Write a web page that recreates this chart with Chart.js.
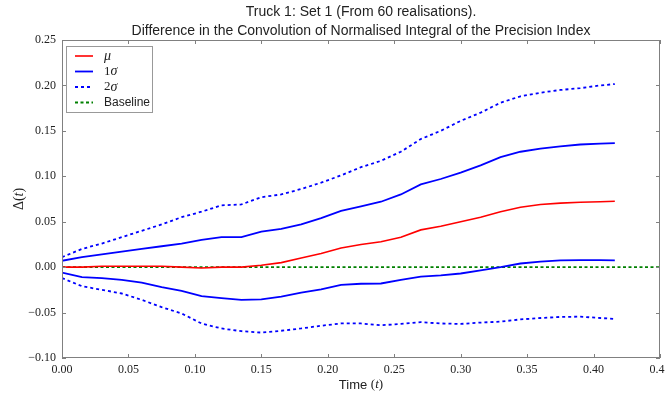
<!DOCTYPE html>
<html>
<head>
<meta charset="utf-8">
<script src="https://cdn.jsdelivr.net/npm/chart.js@4"></script>
<style>
  html, body { margin: 0; padding: 0; background: #fff; }
  #wrap { width: 665px; height: 397px; }
</style>
</head>
<body>
<div id="wrap"><canvas id="chart"></canvas></div>
<script>
// time samples (t) and the band values at each
const times = [0, 0.015, 0.03, 0.045, 0.06, 0.075, 0.09, 0.105, 0.12, 0.135,
  0.15, 0.165, 0.18, 0.195, 0.21, 0.225, 0.24, 0.255, 0.27, 0.285,
  0.30, 0.315, 0.33, 0.345, 0.36, 0.375, 0.39, 0.405, 0.416];

const meanDiff = [0.000, 0.000, 0.001, 0.001, 0.001, 0.001, 0.000, -0.001, 0.000, 0.000,
  0.002, 0.005, 0.010, 0.015, 0.021, 0.025, 0.028, 0.033, 0.041, 0.045,
  0.050, 0.055, 0.061, 0.066, 0.069, 0.0705, 0.0715, 0.072, 0.0725];

const upper1 = [0.007, 0.011, 0.014, 0.017, 0.020, 0.023, 0.026, 0.030, 0.033, 0.033,
  0.039, 0.042, 0.047, 0.054, 0.062, 0.067, 0.072, 0.080, 0.091, 0.097,
  0.104, 0.112, 0.121, 0.127, 0.1305, 0.133, 0.135, 0.136, 0.1365];

const lower1 = [-0.006, -0.011, -0.012, -0.014, -0.017, -0.022, -0.026, -0.032, -0.034, -0.036,
  -0.0355, -0.0325, -0.028, -0.0245, -0.0195, -0.0183, -0.018, -0.014, -0.0105, -0.009,
  -0.007, -0.0035, 0.000, 0.004, 0.006, 0.0075, 0.0078, 0.0077, 0.0075];

const upper2 = [0.011, 0.020, 0.026, 0.033, 0.040, 0.047, 0.055, 0.061, 0.068, 0.069,
  0.077, 0.080, 0.086, 0.093, 0.101, 0.110, 0.117, 0.127, 0.141, 0.150,
  0.161, 0.170, 0.181, 0.188, 0.192, 0.195, 0.197, 0.200, 0.2015];

const lower2 = [-0.012, -0.021, -0.025, -0.029, -0.036, -0.044, -0.051, -0.062, -0.0675, -0.0705,
  -0.072, -0.070, -0.0675, -0.0645, -0.062, -0.062, -0.064, -0.0625, -0.0605, -0.062,
  -0.0625, -0.061, -0.060, -0.0575, -0.056, -0.0548, -0.0545, -0.056, -0.057];

const baselineX = [0, 0.45];
const baselineY = [0, 0];

const xTicks = [0, 0.05, 0.10, 0.15, 0.20, 0.25, 0.30, 0.35, 0.40, 0.45];
const yTicks = [-0.10, -0.05, 0.00, 0.05, 0.10, 0.15, 0.20, 0.25];

const titleLines = [
  "Truck 1: Set 1 (From 60 realisations).",
  "Difference in the Convolution of Normalised Integral of the Precision Index",
];

const SERIF = "'Liberation Serif', 'DejaVu Serif', serif";
const SANS = "'Liberation Sans', Arial, sans-serif";

const pts = (xs, ys) => xs.map((x, i) => ({ x, y: ys[i] }));

const line = (label, data, color, dash, width) => ({
  label,
  data,
  borderColor: color,
  backgroundColor: color,
  borderWidth: width,
  borderDash: dash,
  pointRadius: 0,
  tension: 0,
  fill: false,
});

// legend entries: [dataset index, text parts]
const legendRows = [
  [0, [["\u03bc", "italic 14px " + SERIF]]],
  [1, [["1", "13px " + SERIF], ["\u03c3", "italic 14px " + SERIF]]],
  [3, [["2", "13px " + SERIF], ["\u03c3", "italic 14px " + SERIF]]],
  [5, [["Baseline", "12px " + SANS]]],
];

function drawParts(ctx, parts, x, y, align) {
  let total = 0;
  parts.forEach(([t, f]) => { ctx.font = f; total += ctx.measureText(t).width; });
  let cx = align === "center" ? x - total / 2 : x;
  ctx.textAlign = "left";
  ctx.textBaseline = "middle";
  parts.forEach(([t, f]) => {
    ctx.font = f;
    ctx.fillText(t, cx, y);
    cx += ctx.measureText(t).width;
  });
}

const decor = {
  id: "decor",
  afterDraw(chart) {
    const { ctx, chartArea: a, scales } = chart;
    ctx.save();

    // frame
    ctx.strokeStyle = "#808080";
    ctx.lineWidth = 1;
    ctx.setLineDash([]);
    ctx.strokeRect(a.left + 0.5, a.top + 0.5, a.right - a.left - 1, a.bottom - a.top - 1);

    // inward ticks on all four sides
    ctx.beginPath();
    xTicks.forEach((v) => {
      const px = Math.round(scales.x.getPixelForValue(v)) + 0.5;
      ctx.moveTo(px, a.bottom); ctx.lineTo(px, a.bottom - 4);
      ctx.moveTo(px, a.top); ctx.lineTo(px, a.top + 4);
    });
    yTicks.forEach((v) => {
      const py = Math.round(scales.y.getPixelForValue(v)) + 0.5;
      ctx.moveTo(a.left, py); ctx.lineTo(a.left + 4, py);
      ctx.moveTo(a.right, py); ctx.lineTo(a.right - 4, py);
    });
    ctx.stroke();

    const midX = (a.left + a.right) / 2;
    ctx.fillStyle = "#222";

    // title
    ctx.font = "14px " + SANS;
    ctx.textAlign = "center";
    ctx.textBaseline = "middle";
    ctx.fillText(titleLines[0], midX, 12);
    ctx.fillText(titleLines[1], midX, 31);

    // axis titles
    drawParts(ctx, [["Time ", "13px " + SANS], ["(", "13px " + SERIF], ["t", "italic 13px " + SERIF], [")", "13px " + SERIF]], midX, 385, "center");
    ctx.save();
    ctx.translate(19, (a.top + a.bottom) / 2);
    ctx.rotate(-Math.PI / 2);
    drawParts(ctx, [["\u0394(", "14px " + SERIF], ["t", "italic 14px " + SERIF], [")", "14px " + SERIF]], 0, 0, "center");
    ctx.restore();

    // legend
    const bx = 66, by = 46, bw = 86, bh = 66;
    ctx.fillStyle = "#fff";
    ctx.fillRect(bx, by, bw, bh);
    ctx.strokeStyle = "#999";
    ctx.strokeRect(bx + 0.5, by + 0.5, bw, bh);
    legendRows.forEach(([di, parts], i) => {
      const ds = chart.data.datasets[di];
      const y = by + 10 + i * 15.5;
      ctx.strokeStyle = ds.borderColor;
      ctx.lineWidth = ds.borderWidth;
      ctx.setLineDash(ds.borderDash || []);
      ctx.beginPath();
      ctx.moveTo(75, y); ctx.lineTo(93, y);
      ctx.stroke();
      ctx.setLineDash([]);
      ctx.fillStyle = "#222";
      drawParts(ctx, parts, 104, y, "left");
    });

    ctx.restore();
  },
};

const fmt = (v) => v.toFixed(2).replace("-", "\u2212");

new Chart(document.getElementById("chart"), {
  type: "line",
  data: {
    datasets: [
      line("mu", pts(times, meanDiff), "#ff0000", [], 1.6),
      line("1 sigma upper", pts(times, upper1), "#0000ff", [], 1.8),
      line("1 sigma lower", pts(times, lower1), "#0000ff", [], 1.8),
      line("2 sigma upper", pts(times, upper2), "#0000ff", [3, 3], 1.8),
      line("2 sigma lower", pts(times, lower2), "#0000ff", [3, 3], 1.8),
      line("Baseline", pts(baselineX, baselineY), "#008000", [3, 2.5], 1.8),
    ],
  },
  options: {
    responsive: true,
    maintainAspectRatio: false,
    animation: false,
    layout: { padding: { top: 40, right: 5, left: 0, bottom: 0 } },
    plugins: {
      legend: { display: false },
      title: { display: false },
      tooltip: { enabled: false },
    },
    scales: {
      x: {
        type: "linear",
        min: 0,
        max: 0.45,
        afterBuildTicks: (s) => { s.ticks = xTicks.map((v) => ({ value: v })); },
        afterFit: (s) => { s.height = 39; s.paddingLeft = 0; s.paddingRight = 0; },
        ticks: {
          callback: fmt,
          autoSkip: false,
          maxRotation: 0,
          padding: 5,
          color: "#222",
          font: { family: SERIF, size: 12 },
        },
        grid: { display: false, drawTicks: false },
        border: { display: false },
      },
      y: {
        min: -0.1,
        max: 0.25,
        afterBuildTicks: (s) => { s.ticks = yTicks.map((v) => ({ value: v })); },
        afterFit: (s) => { s.width = 62; s.paddingTop = 0; s.paddingBottom = 0; },
        ticks: {
          callback: fmt,
          padding: 6,
          color: "#222",
          font: { family: SERIF, size: 12 },
        },
        grid: { display: false, drawTicks: false },
        border: { display: false },
      },
    },
  },
  plugins: [decor],
});
</script>
</body>
</html>
